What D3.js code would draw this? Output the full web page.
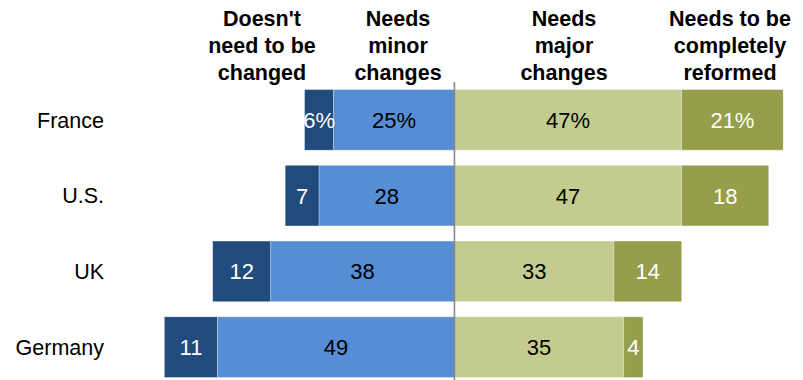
<!DOCTYPE html>
<html>
<head>
<meta charset="utf-8">
<script src="https://cdn.jsdelivr.net/npm/d3@7"></script>
<style>
  body { margin: 0; background: #fff; }
  svg text { font-family: "Liberation Sans", Arial, sans-serif; }
</style>
</head>
<body>
<div class="container"></div>
<script>
const countries = ["France", "U.S.", "UK", "Germany"];
const notChanged = [6, 7, 12, 11];
const minorChanges = [25, 28, 38, 49];
const majorChanges = [47, 47, 33, 35];
const reformed = [21, 18, 14, 4];
const headers = [
  ["Doesn't", "need to be", "changed"],
  ["Needs", "minor", "changes"],
  ["Needs", "major", "changes"],
  ["Needs to be", "completely", "reformed"]
];

const width = 803;
const height = 380;

const colors = ["#214a7d", "#558ed5", "#c4cb8e", "#959e4a"];
const textColors = ["#fff", "#000", "#000", "#fff"];

let svg = d3.select(".container").append("svg")
  .attr("width", width).attr("height", height);

let xScale = d3.scaleLinear([-94, 72.1], [0, width]);
let yScale = d3.scaleBand(countries, [82, 385])
  .paddingInner(0.2)
  .paddingOuter(0.1);

// build segments: two going left from zero, two going right
let segments = [];
countries.forEach((c, i) => {
  let a = minorChanges[i], b = notChanged[i];
  segments.push({ c, i, k: 0, x0: -(a + b), x1: -a, v: b });
  segments.push({ c, i, k: 1, x0: -a, x1: 0, v: a });
  let m = majorChanges[i], r = reformed[i];
  segments.push({ c, i, k: 2, x0: 0, x1: m, v: m });
  segments.push({ c, i, k: 3, x0: m, x1: m + r, v: r });
});

let gBars = svg.append("g");
gBars.selectAll("rect")
  .data(segments).enter().append("rect")
  .attr("x", d => xScale(d.x0))
  .attr("y", d => yScale(d.c))
  .attr("width", d => xScale(d.x1) - xScale(d.x0))
  .attr("height", yScale.bandwidth())
  .attr("fill", d => colors[d.k])
  .attr("stroke", "#fff")
  .attr("stroke-opacity", 0.35)
  .attr("stroke-width", 0.8);

gBars.selectAll("text.val")
  .data(segments).enter().append("text")
  .attr("class", "val")
  .attr("x", d => xScale((d.x0 + d.x1) / 2))
  .attr("y", d => yScale(d.c) + yScale.bandwidth() / 2)
  .attr("dy", "0.36em")
  .attr("text-anchor", "middle")
  .attr("font-size", 22)
  .attr("fill", d => textColors[d.k])
  .text(d => d.i === 0 ? d.v + "%" : d.v);

// country labels
let yAxis = d3.axisLeft(yScale).tickSize(0).tickPadding(0);
let gAxis = svg.append("g").attr("transform", "translate(104, 0)").call(yAxis);
gAxis.select(".domain").remove();
gAxis.selectAll("text")
  .attr("font-size", 21.5)
  .attr("fill", "#000")
  .attr("dy", "0.36em");

// zero line
svg.append("line")
  .attr("x1", xScale(0)).attr("x2", xScale(0))
  .attr("y1", 82).attr("y2", height)
  .attr("stroke", "#888")
  .attr("stroke-width", 1.6);

// column headers
const headerX = [262, 398, 564, 730];
headers.forEach((lines, j) => {
  let t = svg.append("text")
    .attr("text-anchor", "middle")
    .attr("font-size", 21.5)
    .attr("font-weight", "bold")
    .attr("fill", "#000");
  lines.forEach((line, n) => {
    t.append("tspan")
      .attr("x", headerX[j])
      .attr("y", 26 + n * 27)
      .text(line);
  });
});
</script>
</body>
</html>
